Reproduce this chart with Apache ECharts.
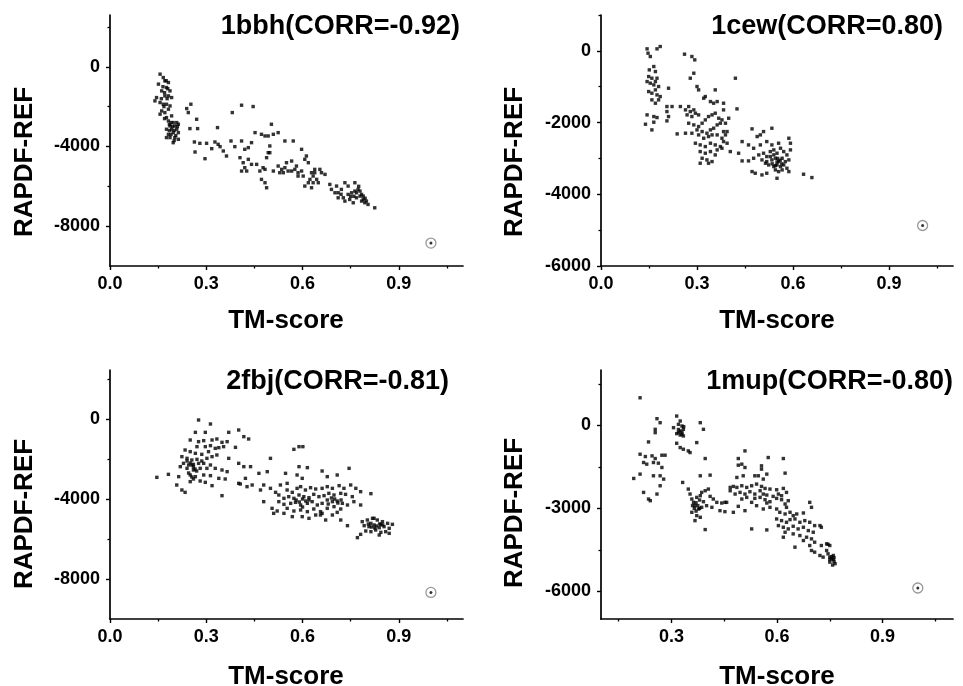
<!DOCTYPE html>
<html>
<head>
<meta charset="utf-8">
<script src="https://cdn.jsdelivr.net/npm/echarts@6/dist/echarts.min.js"></script>
<style>
html,body{margin:0;padding:0;background:#fff;}
#chart{width:963px;height:686px;}
</style>
</head>
<body>
<div id="chart"></div>
<script>
// ---------------- DATA ----------------
const titles = ['1bbh(CORR=-0.92)', '1cew(CORR=0.80)', '2fbj(CORR=-0.81)', '1mup(CORR=-0.80)'];
const xAxisTitle = 'TM-score';
const yAxisTitle = 'RAPDF-REF';

const xMajorA = [0, 0.3, 0.6, 0.9];
const xMajorB = [0.3, 0.6, 0.9];
const xMinor = [0.15, 0.45, 0.75, 1.05];
const yMajor1 = [-8000, -4000, 0];
const yMinor1 = [-6000, -2000, 2000];
const yMajor2 = [-6000, -4000, -2000, 0];
const yMinor2 = [-5000, -3000, -1000, 1000];
const yMajor3 = [-8000, -4000, 0];
const yMinor3 = [-6000, -2000, 2000];
const yMajor4 = [-6000, -3000, 0];
const yMinor4 = [-4500, -1500, 1500];

// native structure (TM-score = 1)
const native1bbh = [1.0, -8850];
const native1cew = [1.005, -4870];
const native2fbj = [1.0, -8670];
const native1mup = [1.0, -5880];

const pts1bbh = [
[0.156,-370],[0.166,-540],[0.151,-870],[0.171,-705],[0.182,-790],[0.176,-1040],[0.187,-1210],[0.161,-1210],[0.145,-1545],[0.140,-1710],
[0.171,-1460],[0.182,-1460],[0.192,-1545],[0.156,-1795],[0.166,-1880],[0.176,-1880],[0.187,-1965],[0.161,-2215],[0.171,-2300],[0.182,-2130],
[0.156,-2380],[0.176,-2550],[0.192,-2465],[0.182,-2720],[0.197,-2800],[0.208,-2800],[0.187,-2970],[0.202,-2970],[0.213,-2885],[0.176,-3135],
[0.192,-3135],[0.208,-3135],[0.182,-3390],[0.197,-3305],[0.213,-3305],[0.187,-3555],[0.202,-3555],[0.176,-3555],[0.213,-3640],[0.197,-3810],
[0.165,-1000],[0.170,-1300],[0.178,-1600],[0.168,-2000],[0.185,-2900],[0.195,-3000],[0.200,-3200],[0.190,-3400],[0.205,-3450],[0.185,-3200],
[0.160,-1600],[0.175,-700],[0.180,-1100],[0.170,-2600],[0.190,-2800],[0.200,-3700],[0.210,-3000],
[0.239,-2097],[0.252,-1879],[0.244,-2298],[0.270,-2634],[0.249,-3103],[0.273,-3103],[0.263,-3774],[0.280,-3841],[0.301,-3841],[0.265,-4277],
[0.296,-4613],[0.317,-4109],[0.327,-3774],[0.337,-3891],[0.335,-3053],[0.343,-4009],[0.353,-4227],[0.363,-4478],[0.377,-3724],[0.381,-2298],
[0.389,-4009],[0.410,-1929],[0.446,-1996],[0.410,-3724],[0.420,-4143],[0.431,-4059],[0.441,-3808],[0.405,-4562],[0.415,-4814],[0.420,-5065],
[0.410,-5233],[0.426,-5233],[0.431,-4646],[0.441,-4898],[0.452,-3305],[0.457,-4898],[0.467,-5233],[0.472,-3389],[0.483,-3472],[0.477,-5065],
[0.472,-5652],[0.483,-5820],[0.488,-6072],[0.493,-3472],[0.498,-4311],[0.503,-2885],[0.509,-3389],[0.498,-3974],[0.493,-4310],[0.488,-4562],
[0.483,-5149],[0.509,-5233],[0.524,-3305],[0.545,-3724],[0.524,-4982],[0.535,-5149],[0.540,-5317],[0.550,-4814],[0.555,-5233],[0.566,-4730],
[0.571,-3724],[0.576,-5149],[0.581,-4982],[0.586,-5317],[0.597,-4143],[0.602,-5485],[0.607,-4646],[0.612,-4478],[0.618,-4814],[0.607,-5988],
[0.623,-5652],[0.628,-5317],[0.633,-5485],[0.638,-5317],[0.644,-5652],[0.649,-5820],[0.654,-5149],[0.659,-5317],[0.670,-5401],[0.633,-5820],
[0.638,-5149],[0.618,-5820],[0.628,-6072],[0.586,-5485],[0.597,-5233],[0.566,-5233],[0.545,-5065],[0.529,-5317],
[0.685,-5904],[0.690,-6155],[0.701,-6323],[0.706,-5988],[0.711,-6575],[0.721,-6155],[0.732,-5820],[0.742,-6407],[0.747,-6659],[0.753,-6323],
[0.758,-6826],[0.763,-5820],[0.768,-6575],[0.773,-6155],[0.779,-6491],[0.784,-6742],[0.789,-6659],[0.794,-6826],[0.799,-6742],[0.804,-6910],
[0.825,-7078],[0.779,-6239],[0.732,-6742],[0.711,-6323],[0.727,-6575],[0.742,-5988],[0.763,-6239],[0.784,-6407],[0.768,-6323],[0.789,-6491],
[0.775,-6000],[0.760,-6500],[0.795,-6600],[0.750,-6500],[0.720,-6400]
];

const pts1cew = [
[0.144,56],[0.147,-65],[0.154,-158],[0.175,56],[0.185,121],[0.151,-530],[0.165,-437],[0.170,-577],[0.149,-716],[0.159,-763],
[0.144,-856],[0.154,-902],[0.165,-949],[0.170,-856],[0.175,-763],[0.180,-995],[0.149,-1135],[0.159,-1181],[0.170,-1088],[0.175,-1228],
[0.185,-1274],[0.159,-1367],[0.170,-1460],[0.144,-1786],[0.165,-1832],[0.175,-1860],[0.139,-2046],[0.165,-1990],[0.159,-2204],[0.180,-1367],
[0.211,-1042],[0.206,-1553],[0.222,-1553],[0.206,-1693],[0.211,-1832],[0.206,-1953],[0.238,-2316],[0.248,-1553],
[0.261,-93],[0.284,-158],[0.293,-251],[0.290,-623],[0.279,-763],[0.300,-995],[0.305,-1088],[0.326,-1274],[0.321,-1321],[0.357,-1088],
[0.342,-1414],[0.352,-1460],[0.363,-1414],[0.383,-1460],[0.420,-763],[0.274,-1553],[0.264,-1646],[0.279,-1693],[0.290,-1646],[0.269,-1786],
[0.284,-1832],[0.295,-1739],[0.305,-1786],[0.274,-2018],[0.290,-2065],[0.305,-2111],[0.316,-2018],[0.326,-1925],[0.336,-1832],[0.347,-1786],
[0.357,-1739],[0.368,-1879],[0.383,-1646],[0.378,-1925],[0.389,-2018],[0.399,-1879],[0.425,-1618],[0.264,-2297],[0.284,-2297],[0.300,-2204],
[0.316,-2251],[0.331,-2297],[0.342,-2204],[0.352,-2158],[0.363,-2065],[0.373,-2018],[0.383,-2251],[0.394,-2251],[0.305,-2344],[0.321,-2437],
[0.336,-2390],[0.347,-2344],[0.363,-2344],[0.378,-2437],[0.389,-2344],[0.295,-2576],[0.310,-2623],[0.326,-2669],[0.342,-2576],[0.357,-2623],
[0.373,-2669],[0.383,-2530],[0.394,-2576],[0.404,-2809],[0.310,-2809],[0.326,-2855],[0.342,-2809],[0.357,-2902],[0.316,-2995],[0.331,-3041],
[0.347,-3088],[0.310,-3134],[0.336,-3134],[0.363,-2762],[0.378,-2716],
[0.472,-2176],[0.488,-2390],[0.498,-2344],[0.508,-2251],[0.534,-2158],[0.441,-2530],[0.461,-2623],[0.430,-2855],[0.477,-2716],[0.498,-2623],
[0.518,-2530],[0.534,-2623],[0.555,-2576],[0.587,-2437],[0.592,-2576],[0.441,-3069],[0.461,-3069],[0.477,-2995],[0.493,-2902],[0.508,-2855],
[0.518,-2948],[0.529,-2809],[0.540,-2762],[0.550,-2855],[0.561,-2716],[0.571,-2809],[0.581,-2902],[0.592,-2762],[0.503,-3041],[0.518,-3088],
[0.534,-3041],[0.545,-2995],[0.555,-3088],[0.566,-2995],[0.576,-3088],[0.587,-3041],[0.524,-3181],[0.540,-3227],[0.550,-3181],[0.561,-3227],
[0.571,-3181],[0.581,-3274],[0.545,-3320],[0.555,-3367],[0.566,-3320],[0.472,-3367],[0.482,-3413],[0.503,-3460],[0.518,-3413],[0.550,-3553],
[0.587,-3367],[0.633,-3441],[0.659,-3534],[0.514,-3134],[0.529,-2948],
[0.550,-3100],[0.560,-3050],[0.545,-3200],[0.535,-3150],[0.565,-3150],[0.552,-3000],[0.540,-2900]
];

const pts2fbj = [
[0.146,-2917],[0.182,-2767],[0.214,-2883],[0.276,-50],[0.313,-250],[0.266,-667],[0.297,-667],[0.370,-667],[0.401,-550],[0.417,-883],
[0.432,-1000],[0.250,-1050],[0.276,-1133],[0.292,-1083],[0.318,-1050],[0.333,-1000],[0.349,-1167],[0.365,-1133],[0.271,-1383],[0.297,-1383],
[0.313,-1333],[0.234,-1550],[0.250,-1633],[0.266,-1717],[0.286,-1767],[0.307,-1633],[0.328,-1467],[0.339,-1433],[0.354,-1383],[0.391,-1417],
[0.224,-1883],[0.240,-1967],[0.255,-2050],[0.271,-2017],[0.286,-2100],[0.302,-1967],[0.318,-1883],[0.333,-1800],[0.370,-1967],[0.229,-2217],
[0.245,-2300],[0.260,-2267],[0.276,-2217],[0.292,-2217],[0.313,-2300],[0.219,-2383],[0.240,-2467],[0.260,-2550],[0.281,-2467],[0.302,-2467],
[0.328,-2467],[0.349,-2550],[0.365,-2633],[0.401,-2217],[0.417,-2383],[0.438,-2383],[0.250,-2800],[0.266,-2883],[0.292,-2800],[0.313,-2833],
[0.339,-2967],[0.359,-3000],[0.208,-3300],[0.250,-3133],[0.281,-3100],[0.297,-3167],[0.318,-3333],[0.224,-3550],[0.234,-3667],[0.349,-3833],
[0.401,-3217],[0.406,-3250],[0.422,-2967],[0.427,-3383],[0.443,-3300],
[0.255,-2300],[0.260,-2400],[0.265,-2500],[0.270,-2600],[0.245,-2700],[0.255,-2900],[0.260,-3000],[0.250,-2200],[0.240,-2100],
[0.500,-1967],[0.464,-2717],[0.490,-2633],[0.479,-3300],[0.469,-3550],[0.500,-3467],[0.479,-4133],[0.516,-3667],[0.531,-3300],[0.547,-2717],
[0.552,-3217],[0.505,-4467],[0.521,-4600],[0.510,-4717],
[0.573,-1517],[0.589,-1383],[0.601,-1383],[0.589,-2383],[0.615,-2433],[0.583,-2800],[0.599,-2967],[0.552,-3550],[0.568,-3667],[0.583,-3467],
[0.594,-3383],[0.609,-3550],[0.625,-3433],[0.641,-3500],[0.661,-2600],[0.677,-2883],[0.708,-2800],[0.745,-2467],[0.661,-3467],[0.677,-3383],
[0.693,-3467],[0.714,-3333],[0.729,-3467],[0.750,-3300],[0.766,-3467],[0.526,-3800],[0.542,-3967],[0.557,-3883],[0.573,-3967],[0.589,-3800],
[0.604,-3883],[0.620,-3933],[0.635,-3767],[0.651,-3883],[0.667,-3833],[0.682,-3717],[0.698,-3800],[0.719,-3717],[0.734,-3767],[0.755,-3883],
[0.526,-4133],[0.542,-4267],[0.563,-4217],[0.578,-4167],[0.594,-4300],[0.615,-4217],[0.630,-4133],[0.646,-4300],[0.661,-4217],[0.677,-4050],
[0.693,-4133],[0.708,-4100],[0.724,-4217],[0.740,-4300],[0.760,-4133],[0.781,-4300],[0.552,-4467],[0.573,-4600],[0.594,-4550],[0.615,-4633],
[0.635,-4500],[0.656,-4633],[0.677,-4467],[0.698,-4383],[0.719,-4500],[0.568,-4883],[0.599,-4883],[0.620,-4967],[0.641,-4800],[0.661,-4717],
[0.693,-4800],[0.708,-4667],[0.781,-3633],[0.813,-3733],[0.740,-5333],[0.656,-4800],[0.672,-5050],[0.719,-5050],[0.542,-4717],
[0.600,-4000],[0.610,-4100],[0.620,-4050],[0.590,-4150],[0.700,-4000],[0.710,-4200],[0.690,-3950],[0.720,-4050],[0.680,-4250],[0.600,-4400],[0.580,-4050],
[0.786,-5133],[0.802,-5050],[0.818,-4967],[0.833,-5050],[0.849,-5133],[0.865,-5217],[0.880,-5267],[0.792,-5333],[0.807,-5383],[0.823,-5300],
[0.839,-5433],[0.854,-5383],[0.870,-5467],[0.797,-5600],[0.813,-5633],[0.828,-5550],[0.844,-5667],[0.859,-5633],[0.781,-5767],[0.771,-5933],
[0.839,-5800],[0.870,-5717],[0.823,-4967],[0.813,-5217],[0.844,-5267],
[0.830,-5350],[0.815,-5400],[0.840,-5250],[0.825,-5450],[0.850,-5300],[0.805,-5250]
];

const pts1mup = [
[0.211,996],[0.259,240],[0.268,96],[0.254,-144],[0.254,-264],[0.235,-600],[0.211,-1044],[0.226,-1128],[0.245,-1104],[0.254,-1200],
[0.273,-1080],[0.282,-1080],[0.221,-1344],[0.230,-1404],[0.249,-1344],[0.263,-1368],[0.273,-1524],[0.193,-1920],[0.211,-1764],[0.249,-1824],
[0.268,-1824],[0.278,-1944],[0.221,-2424],[0.235,-2664],[0.240,-2724],[0.259,-2484],[0.268,-2184],
[0.315,336],[0.325,156],[0.320,36],[0.330,-24],[0.334,-144],[0.306,-84],[0.320,-264],[0.330,-324],[0.334,-384],[0.325,-204],
[0.382,96],[0.391,-144],[0.372,-624],[0.353,-984],[0.315,-648],[0.325,-804],[0.334,-864],[0.348,-924],
[0.320,-150],[0.330,-250],[0.325,-350],[0.335,-50],[0.315,-300],
[0.332,-2064],[0.348,-2304],[0.353,-2484],[0.358,-2664],[0.363,-2784],[0.372,-2604],[0.382,-2544],[0.386,-2424],[0.396,-2364],[0.405,-2304],
[0.410,-2568],[0.419,-2664],[0.367,-2904],[0.377,-3024],[0.386,-2964],[0.400,-2904],[0.415,-2964],[0.358,-3144],[0.372,-3264],[0.382,-3324],
[0.367,-3444],[0.391,-2760],[0.396,-3768],[0.382,-1824],[0.410,-1800],[0.396,-1200],[0.429,-2784],[0.443,-2808],[0.452,-2784],[0.438,-3084],
[0.457,-2784],[0.370,-2800],[0.375,-2900],[0.380,-2700],[0.365,-3000],[0.360,-2900],[0.370,-3100],[0.380,-3000],
[0.509,-924],[0.490,-1200],[0.575,-1164],[0.618,-1200],[0.490,-1440],[0.500,-1404],[0.509,-1524],[0.486,-1884],[0.504,-1824],[0.537,-1824],
[0.547,-1824],[0.556,-1464],[0.561,-1944],[0.556,-1584],[0.571,-1764],[0.623,-1728],[0.467,-2244],[0.476,-2208],[0.486,-2244],[0.500,-2184],
[0.514,-2244],[0.528,-2184],[0.542,-2124],[0.556,-2208],[0.566,-2280],[0.580,-2304],[0.599,-2328],[0.618,-2280],[0.467,-2364],[0.481,-2484],
[0.495,-2424],[0.509,-2484],[0.523,-2400],[0.537,-2484],[0.552,-2364],[0.561,-2484],[0.571,-2520],[0.589,-2568],[0.604,-2484],[0.613,-2544],
[0.627,-2424],[0.500,-2664],[0.514,-2604],[0.537,-2640],[0.552,-2604],[0.566,-2688],[0.580,-2760],[0.599,-2640],[0.613,-2688],[0.632,-2724],
[0.542,-2904],[0.561,-3024],[0.580,-2964],[0.490,-2928],[0.528,-2784],[0.509,-3084],[0.623,-2844],[0.452,-3120],[0.476,-3144],[0.571,-2808],
[0.627,-2964],
[0.599,-3024],[0.608,-3144],[0.623,-3204],[0.637,-3144],[0.646,-3264],[0.656,-3204],[0.675,-3168],[0.693,-2784],[0.698,-2964],[0.599,-3384],
[0.613,-3444],[0.627,-3504],[0.637,-3408],[0.651,-3384],[0.665,-3504],[0.679,-3444],[0.693,-3504],[0.707,-3624],[0.722,-3624],[0.604,-3624],
[0.618,-3684],[0.632,-3744],[0.646,-3648],[0.660,-3744],[0.675,-3684],[0.689,-3804],[0.703,-3864],[0.726,-3684],[0.623,-3864],[0.646,-3924],
[0.665,-3984],[0.684,-4044],[0.698,-4104],[0.707,-4224],[0.726,-4344],[0.741,-4284],[0.750,-4344],[0.651,-4404],[0.675,-4164],[0.693,-4344],
[0.698,-4524],[0.707,-4584],[0.722,-4704],[0.731,-4764],[0.745,-4644],[0.750,-4764],[0.755,-4824],[0.760,-4704],[0.750,-4944],[0.762,-4920],
[0.741,-4524],[0.571,-3780],[0.528,-3744],[0.618,-4044],
[0.755,-4750],[0.760,-4850],[0.765,-5000],[0.750,-4850],[0.758,-5050],[0.762,-4780],[0.745,-4300]
];

// ---------------- LAYOUT ----------------
const FONT = '"Liberation Sans", Arial, Helvetica, sans-serif';
const panels = [
  {pts: pts1bbh, nat: native1bbh, grid: {left: 110, top: 15, width: 353, height: 251}, x: [0, 1.1], y: [-10000, 2600], xMaj: xMajorA, yMaj: yMajor1, yMin: yMinor1},
  {pts: pts1cew, nat: native1cew, grid: {left: 601, top: 15, width: 352, height: 251}, x: [0, 1.1], y: [-6000, 1000], xMaj: xMajorA, yMaj: yMajor2, yMin: yMinor2},
  {pts: pts2fbj, nat: native2fbj, grid: {left: 110, top: 370, width: 353, height: 249}, x: [0, 1.1], y: [-10000, 2450], xMaj: xMajorA, yMaj: yMajor3, yMin: yMinor3},
  {pts: pts1mup, nat: native1mup, grid: {left: 601, top: 370, width: 352, height: 249}, x: [0.1, 1.1], y: [-7000, 2000], xMaj: xMajorB, yMaj: yMajor4, yMin: yMinor4}
];
const titlePos = [[460, 27], [943, 27], [449, 382], [953, 382]];
const yNamePos = [[25, 162], [515, 162], [25, 514], [515, 513]];
const xNamePos = [[286, 321], [777, 321], [286, 677], [777, 677]];

const grids = [], xAxes = [], yAxes = [], series = [], graphics = [];
const lab = {color: '#000', fontSize: 18, fontWeight: 'bold', fontFamily: FONT};

panels.forEach((p, i) => {
  grids.push(Object.assign({containLabel: false}, p.grid));
  const xi = xAxes.length, yi = yAxes.length;
  // main x axis
  xAxes.push({
    gridIndex: i, type: 'value', min: p.x[0], max: p.x[1], position: 'bottom',
    axisLine: {show: true, onZero: false, lineStyle: {color: '#000', width: 1.7}},
    axisTick: {show: true, customValues: p.xMaj, length: 4, lineStyle: {color: '#000', width: 1.4}},
    axisLabel: Object.assign({customValues: p.xMaj, margin: 9, formatter: v => Number(v).toFixed(1)}, lab),
    splitLine: {show: false}
  });
  // minor x ticks
  xAxes.push({
    gridIndex: i, type: 'value', min: p.x[0], max: p.x[1], position: 'bottom',
    axisLine: {show: false, onZero: false}, axisLabel: {show: false}, splitLine: {show: false},
    axisTick: {show: true, customValues: xMinor, length: 2.5, lineStyle: {color: '#000', width: 1.3}}
  });
  yAxes.push({
    gridIndex: i, type: 'value', min: p.y[0], max: p.y[1], position: 'left',
    axisLine: {show: true, onZero: false, lineStyle: {color: '#000', width: 1.7}},
    axisTick: {show: true, customValues: p.yMaj, length: 4, lineStyle: {color: '#000', width: 1.4}},
    axisLabel: Object.assign({customValues: p.yMaj, margin: 10, formatter: v => String(Math.round(v))}, lab),
    splitLine: {show: false}
  });
  yAxes.push({
    gridIndex: i, type: 'value', min: p.y[0], max: p.y[1], position: 'left',
    axisLine: {show: false, onZero: false}, axisLabel: {show: false}, splitLine: {show: false},
    axisTick: {show: true, customValues: p.yMin, length: 2.5, lineStyle: {color: '#000', width: 1.3}}
  });
  series.push({
    type: 'scatter', xAxisIndex: xi, yAxisIndex: yi, data: p.pts,
    symbol: 'rect', symbolSize: 3.4, itemStyle: {color: '#000'}, silent: true
  });
  series.push({
    type: 'scatter', xAxisIndex: xi, yAxisIndex: yi, data: [p.nat],
    symbol: 'circle', symbolSize: 10, itemStyle: {color: 'rgba(255,255,255,0)', borderColor: '#808080', borderWidth: 1.3}, silent: true
  });
  series.push({
    type: 'scatter', xAxisIndex: xi, yAxisIndex: yi, data: [p.nat],
    symbol: 'circle', symbolSize: 3, itemStyle: {color: '#000'}, silent: true
  });
  graphics.push({type: 'text', x: titlePos[i][0], y: titlePos[i][1],
    style: {text: titles[i], font: 'bold 27px ' + FONT, fill: '#000', textAlign: 'right', textVerticalAlign: 'middle'}});
  graphics.push({type: 'text', x: yNamePos[i][0], y: yNamePos[i][1], rotation: Math.PI / 2,
    style: {text: yAxisTitle, font: 'bold 26px ' + FONT, fill: '#000', textAlign: 'center', textVerticalAlign: 'middle'}});
  graphics.push({type: 'text', x: xNamePos[i][0], y: xNamePos[i][1],
    style: {text: xAxisTitle, font: 'bold 26px ' + FONT, fill: '#000', textAlign: 'center', textVerticalAlign: 'middle'}});
});

const chart = echarts.init(document.getElementById('chart'), null, {renderer: 'canvas'});
chart.setOption({
  backgroundColor: '#fff',
  animation: false,
  grid: grids,
  xAxis: xAxes,
  yAxis: yAxes,
  series: series,
  graphic: {elements: graphics}
});
</script>
</body>
</html>
